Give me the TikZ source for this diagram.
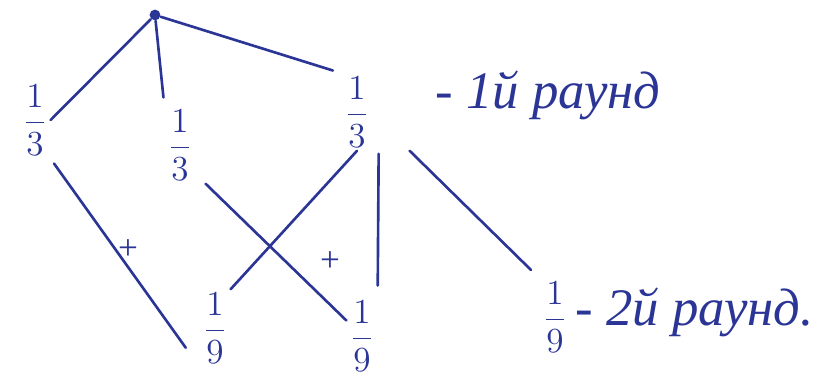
\documentclass[tikz,border=0pt]{standalone}
\usepackage{amsmath}
\usepackage{fontspec}
\setmainfont{Liberation Serif}
\usepackage{tikz}
\usetikzlibrary{calc}
\definecolor{Ink}{HTML}{2B3596}

\begin{document}
\begin{tikzpicture}[x=0.012cm,y=0.012cm,
  frac/.style={inner sep=1pt,font=\fontsize{13}{15}\selectfont,text=Ink},
  note/.style={anchor=west,inner sep=0pt,font=\fontsize{18}{21}\selectfont\itshape,text=Ink},
  plus/.style={inner sep=0pt,font=\large,text=Ink},
  edge/.style={draw=Ink,line width=0.9pt,line cap=round},
  dot/.style={circle,fill=Ink,inner sep=1.3pt}]
\path[use as bounding box] (0,0) rectangle (837,378);

% root
\node[dot] (root) at (155,363) {};

% first round
\node[frac] (a1) at (35,258) {$\dfrac{1}{3}$};
\node[frac] (a2) at (180,233) {$\dfrac{1}{3}$};
\node[frac] (a3) at (357,266) {$\dfrac{1}{3}$};
\node[note] (r1) at (435,283) {- 1й раунд};

% second round
\node[frac] (b1) at (215,50) {$\dfrac{1}{9}$};
\node[frac] (b2) at (362,42) {$\dfrac{1}{9}$};
\node[frac] (b3) at (555,61) {$\dfrac{1}{9}$};
\node[note] (r2) at (575,66) {- 2й раунд.};

% branches
\draw[edge] (root) -- (a1.east);
\draw[edge,shorten >=3pt] (root) -- (a2.north west);
\draw[edge,shorten >=3pt] (root) -- (a3.north west);
\draw[edge,shorten <=2pt,shorten >=8pt] (a1.south east) -- (b1.south west);
\draw[edge] ($(a2.south east)+(10,0)$) -- ($(b2.north west)!0.6!(b2.west)$);
\draw[edge] (a3.south) -- (b1.north east);
\draw[edge,shorten >=4pt] ($(a3.south east)+(6,-3)$) -- (b2.north east);
\draw[edge,shorten >=4pt] ($(a3.south east)+(37,0)$) -- (b3.north west);

% marks
\node[plus] (p1) at (128,128) {+};
\node[plus] (p2) at (330,116) {+};
\end{tikzpicture}
\end{document}
